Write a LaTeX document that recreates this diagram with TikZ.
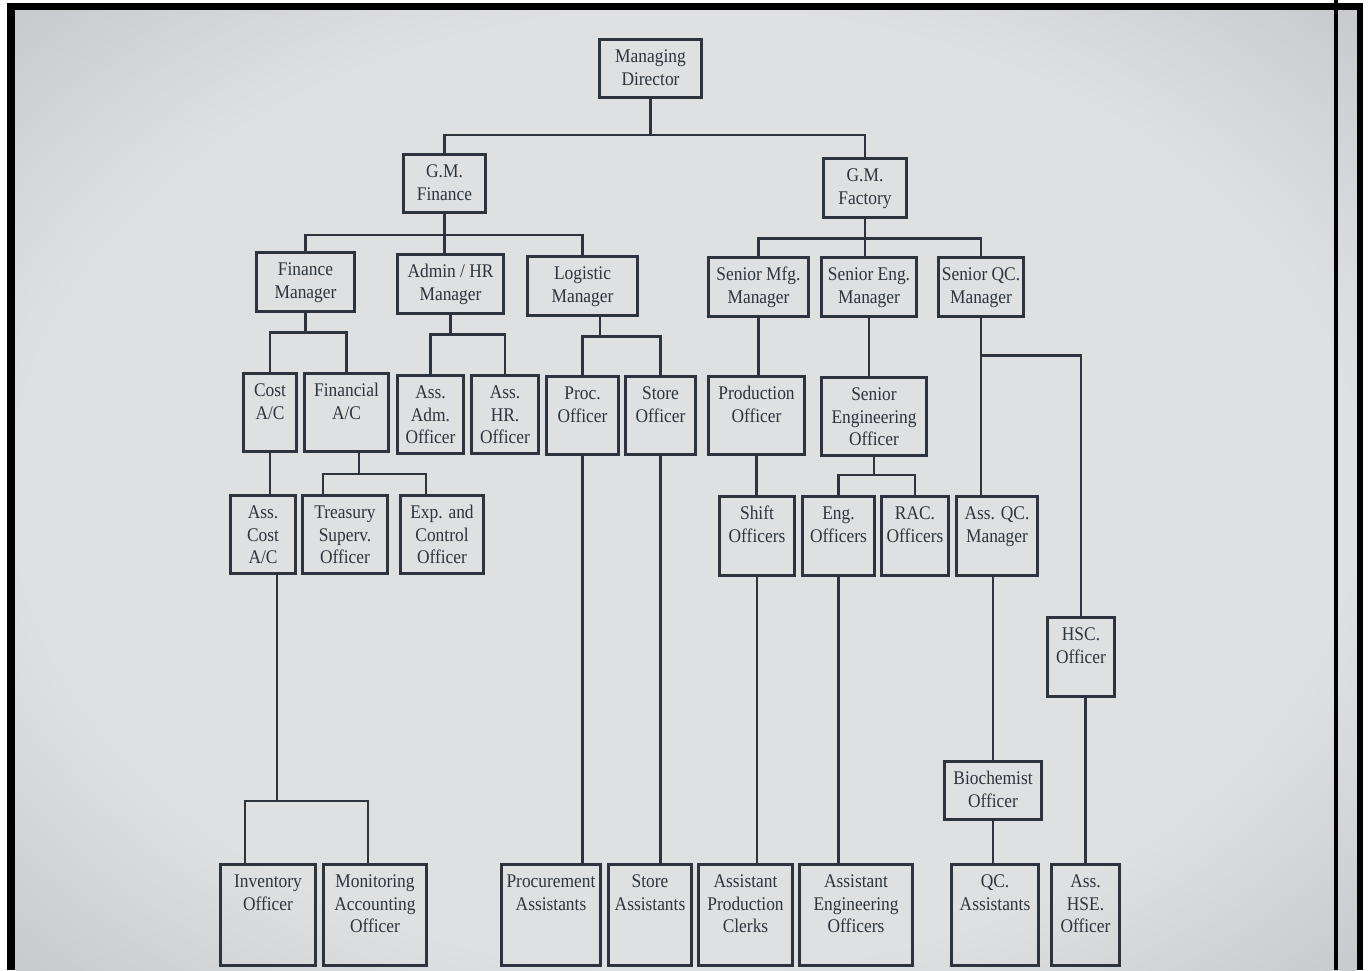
\documentclass[tikz,border=0pt]{standalone}
\usepackage{fontspec}
\setmainfont{Liberation Serif}[FakeStretch=0.9]
\usepackage{tikz}
\usetikzlibrary{shapes,arrows}
\definecolor{ink}{RGB}{45,52,62}
\definecolor{bgin}{RGB}{222,224,226}
\definecolor{bgout}{RGB}{170,170,174}
\pgfdeclareradialshading{paper}{\pgfpoint{0bp}{0bp}}{color(0bp)=(bgin); color(25bp)=(bgin); color(50bp)=(bgout)}
\newcommand{\boxtext}[1]{\begin{tabular}[t]{@{}c@{}}#1\end{tabular}}

\begin{document}
\begin{tikzpicture}[x=0.02cm, y=-0.02cm, color=ink, line width=1.4pt,
  bw/.style={minimum width=#1*0.02cm-1.6pt}]
\tikzstyle{box}=[draw, rectangle, line width=1.6pt, inner xsep=1pt, inner ysep=4pt, text height=9pt, font=\fontsize{11}{13}\selectfont]
\tikzstyle{mgr}=[box, text depth=16.2pt]
\tikzstyle{off}=[box, text depth=27.6pt]
\tikzstyle{low}=[box, text depth=40.6pt]

% photographed page
\useasboundingbox (0,0) rectangle (1368,970);
\fill[white] (0,0) rectangle (1368,970);
\shade[shading=paper] (15,10) rectangle (1357,970);
\fill[black] (7,3) rectangle (15,970);
\fill[black] (7,3) rectangle (1357,10);
\fill[black] (1334,0) rectangle (1338,970);
\fill[black] (1357,3) rectangle (1363,970);

% top
\node[mgr][bw=105] (md) at (650.5,68.5) {\boxtext{Managing\\Director}};
\node[mgr][bw=85] (gmfin) at (444.5,183.5) {\boxtext{G.M.\\Finance}};
\node[mgr][bw=86] (gmfac) at (865,188) {\boxtext{G.M.\\Factory}};

% managers
\node[mgr][bw=101] (finm) at (305.5,282) {\boxtext{Finance\\Manager}};
\node[mgr][bw=109] (hrm) at (450.5,284) {\boxtext{Admin / HR\\Manager}};
\node[mgr][bw=113] (logm) at (582.5,286) {\boxtext{Logistic\\Manager}};
\node[mgr][bw=103] (mfgm) at (758.5,287) {\boxtext{Senior Mfg.\\Manager}};
\node[mgr][bw=98] (engm) at (869,287) {\boxtext{Senior Eng.\\Manager}};
\node[mgr][bw=88] (qcm) at (981,287) {\boxtext{Senior QC.\\Manager}};

% officers
\node[off][bw=56] (costac) at (270,412.5) {\boxtext{Cost\\A/C}};
\node[off][bw=87] (finac) at (346.5,412.5) {\boxtext{Financial\\A/C}};
\node[off][bw=69] (assadm) at (430.5,414.5) {\boxtext{Ass.\\Adm.\\Officer}};
\node[off][bw=70] (asshr) at (505,414.5) {\boxtext{Ass.\\HR.\\Officer}};
\node[off][bw=75] (proc) at (582.5,415.5) {\boxtext{Proc.\\Officer}};
\node[off][bw=73] (store) at (660.5,415.5) {\boxtext{Store\\Officer}};
\node[off][bw=99] (prodo) at (756.5,415.5) {\boxtext{Production\\Officer}};
\node[off][bw=108] (seo) at (874,416.5) {\boxtext{Senior\\Engineering\\Officer}};

\node[off][bw=68] (asscost) at (263,534.5) {\boxtext{Ass.\\Cost\\A/C}};
\node[off][bw=88] (treas) at (345,534.5) {\boxtext{Treasury\\Superv.\\Officer}};
\node[off][bw=86] (expc) at (442,534.5) {\boxtext{Exp. and\\Control\\Officer}};
\node[off][bw=78] (shift) at (757,536) {\boxtext{Shift\\Officers}};
\node[off][bw=75] (engo) at (838.5,536) {\boxtext{Eng.\\Officers}};
\node[off][bw=70] (raco) at (915,536) {\boxtext{RAC.\\Officers}};
\node[off][bw=84] (aqcm) at (997,536) {\boxtext{Ass. QC.\\Manager}};
\node[off][bw=70] (hsc) at (1081,657) {\boxtext{HSC.\\Officer}};
\node[mgr][bw=100] (bio) at (993,790.5) {\boxtext{Biochemist\\Officer}};

% assistants
\node[low][bw=98] (inv) at (268,915) {\boxtext{Inventory\\Officer}};
\node[low][bw=106] (monac) at (375,915) {\boxtext{Monitoring\\Accounting\\Officer}};
\node[low][bw=102] (procas) at (551,915) {\boxtext{Procurement\\Assistants}};
\node[low][bw=86] (storeas) at (650,915) {\boxtext{Store\\Assistants}};
\node[low][bw=97] (apc) at (745.5,915) {\boxtext{Assistant\\Production\\Clerks}};
\node[low][bw=116] (aeo) at (856,915) {\boxtext{Assistant\\Engineering\\Officers}};
\node[low][bw=90] (qcas) at (995,915) {\boxtext{QC.\\Assistants}};
\node[low][bw=71] (hse) at (1085.5,915) {\boxtext{Ass.\\HSE.\\Officer}};

% links
\draw (md.south) -- ++(0,36) coordinate (j0);
\draw (gmfin.north) |- (j0) -| (gmfac.north);
\draw (gmfin.south) -- ++(0,21) coordinate (j1);
\draw (finm.north) |- (j1) -| (logm.north);
\draw (j1) -- (j1 |- hrm.north);
\draw (gmfac.south) -- ++(0,20) coordinate (j2);
\draw (mfgm.north) |- (j2) -| (qcm.north);
\draw (j2) -- (j2 |- engm.north);
\draw (finm.south) -- ++(0,20) coordinate (j3);
\draw (costac.north) |- (j3) -| (finac.north);
\draw (hrm.south) -- ++(0,20) coordinate (j4);
\draw (assadm.north) |- (j4) -| (asshr.north);
\draw ([xshift=0.35cm]logm.south) -- ++(0,20) coordinate (j5);
\draw (proc.north) |- (j5) -| (store.north);
\draw (mfgm.south) -- (mfgm.south |- prodo.north);
\draw (engm.south) -- (engm.south |- seo.north);
\draw (qcm.south) -- (qcm.south |- aqcm.north);
\draw (qcm.south) ++(0,38) coordinate (j6) -| (hsc.north);
\draw (costac.south) -- (costac.south |- asscost.north);
\draw ([xshift=0.25cm]finac.south) -- ++(0,21) coordinate (j7);
\draw ([xshift=-0.44cm]treas.north) |- (j7) -| ([xshift=-0.32cm]expc.north);
\draw (prodo.south) -- (prodo.south |- shift.north);
\draw (seo.south) -- ++(0,18) coordinate (j8);
\draw (engo.north) |- (j8) -| (raco.north);
\draw (bio.north |- aqcm.south) -- (bio.north);
\draw (hse.north |- hsc.south) -- (hse.north);
\draw ([xshift=0.28cm]asscost.south) -- ++(0,226) coordinate (j9);
\draw ([xshift=-0.46cm]inv.north) |- (j9) -| ([xshift=-0.14cm]monac.north);
\draw (proc.south) -- (proc.south |- procas.north);
\draw (store.south) -- (store.south |- storeas.north);
\draw (shift.south) -- (shift.south |- apc.north);
\draw (engo.south) -- (engo.south |- aeo.north);
\draw (bio.south) -- (bio.south |- qcas.north);
\end{tikzpicture}
\end{document}
